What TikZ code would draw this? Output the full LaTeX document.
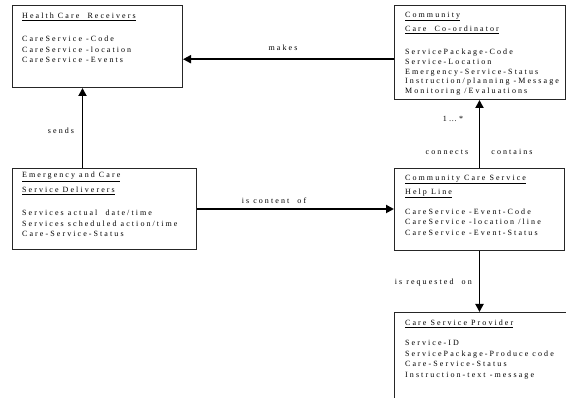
\documentclass[tikz,border=0pt]{standalone}
\usepackage{fontspec}
\setmainfont{Liberation Serif}[LetterSpace=26]
\usetikzlibrary{arrows.meta,calc}
\tikzset{
  box/.style={draw=black!85, line width=1pt, rectangle, anchor=north west, inner sep=0pt},
  txt/.style={anchor=north west, align=left, inner sep=0pt, font=\fontsize{8}{10.5}\selectfont},
  lbl/.style={font=\fontsize{8}{9}\selectfont, inner sep=0pt},
  conn/.style={line width=1.9pt, -{Triangle[length=8pt,width=8pt]}},
}
\begin{document}
\begin{tikzpicture}[x=1pt,y=-1pt]
\useasboundingbox (0,0) rectangle (566,398);
\begin{scope}
\clip (0,0) rectangle (566,398);
% boxes
\node[box, minimum width=170pt, minimum height=82pt] (hcr) at (12,5) {};
\node[box, minimum width=171pt, minimum height=94pt] (ccc) at (394,5) {};
\node[box, minimum width=184pt, minimum height=81pt] (emg) at (12,168) {};
\node[box, minimum width=170pt, minimum height=82pt] (help) at (394,168) {};
\node[box, minimum width=200pt, minimum height=100pt] (prov) at (394,312) {};
% texts
\node[txt] (hcrT) at (22,13) {\underline{Health Care\ \ Receivers}\\[12.5pt]
  CareService -Code\\ CareService -location\\ CareService -Events};
\node[txt, font=\fontsize{8}{9.8}\selectfont] (cccT) at (405,12) {\underline{Community}\\[4.2pt]
  \underline{Care\ \ Co-ordinator}\\[13.2pt]
  ServicePackage-Code\\ Service-Location\\ Emergency-Service-Status\\
  Instruction/planning -Message\\ Monitoring /Evaluations};
\node[txt] (emgT) at (22,172) {\underline{Emergency and Care}\\[4.5pt]
  \underline{Service Deliverers}\\[12.5pt]
  Services actual\ \ date/time\\ Services scheduled action/time\\ Care-Service-Status};
\node[txt] (helpT) at (405,175) {\underline{Community Care Service}\\[3.5pt]
  \underline{Help Line}\\[9.5pt]
  CareService -Event-Code\\ CareService -location /line\\ CareService -Event-Status};
\node[txt] (provT) at (405,320) {\underline{Care Service Provider}\\[9.5pt]
  Service-ID\\ ServicePackage-Produce code\\ Care-Service-Status\\ Instruction-text -message};
% connectors
\coordinate (m1) at ([yshift=-6.7pt]ccc.west);
\draw[conn] (m1) -- (m1 -| hcr.east);
\coordinate (s1) at ([xshift=-22pt]emg.north);
\draw[conn] (s1) -- (s1 |- hcr.south);
\draw[conn] (emg.east) -- (emg.east -| help.west);
\draw[conn] (help.north) -- (help.north |- ccc.south);
\draw[conn] (help.south) -- (help.south |- prov.north);
% labels
\node[lbl] (lmakes) at (283,48) {makes};
\node[lbl] (lsends) at (61,131) {sends};
\node[lbl] (lcont) at (274,201) {is content\ \ of};
\node[lbl] (lmult) at (453,119) {1…*};
\node[lbl] (lconn) at (447,152) {connects};
\node[lbl] (lcontains) at (512,152) {contains};
\node[lbl, anchor=east] (lreq) at (472,283) {is requested\ \ on};
\end{scope}
\end{tikzpicture}
\end{document}
